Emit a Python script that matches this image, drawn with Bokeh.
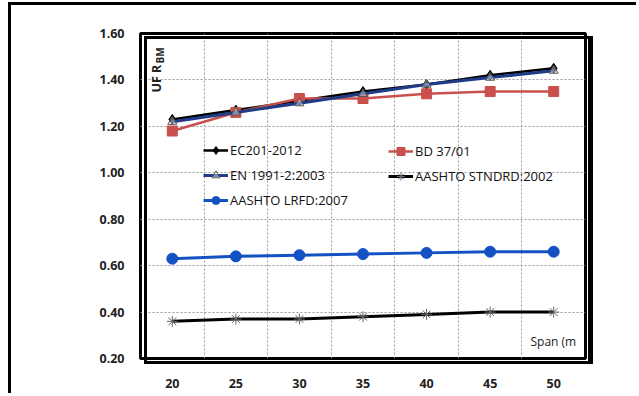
from bokeh.plotting import figure
from bokeh.models import (Range1d, FixedTicker, Legend, LegendItem, Label,
                          NumeralTickFormatter, Div)
from bokeh.layouts import column
from bokeh.embed import file_html
from bokeh.resources import INLINE

spans = [20, 25, 30, 35, 40, 45, 50]
ec2012 = [1.23, 1.27, 1.31, 1.35, 1.38, 1.42, 1.45]
bd3701 = [1.18, 1.26, 1.32, 1.32, 1.34, 1.35, 1.35]
en1991 = [1.22, 1.26, 1.30, 1.34, 1.38, 1.41, 1.44]
stndrd = [0.36, 0.37, 0.37, 0.38, 0.39, 0.40, 0.40]
lrfd = [0.63, 0.64, 0.645, 0.65, 0.655, 0.66, 0.66]
y_ticks = [0.2, 0.4, 0.6, 0.8, 1.0, 1.2, 1.4, 1.6]
series_names = ["EC201-2012", "BD 37/01", "EN 1991-2:2003",
                "AASHTO STNDRD:2002", "AASHTO LRFD:2007"]

FONT = "Open Sans"

fig = figure(width=628, height=391, output_backend="svg", toolbar_location=None,
             x_range=Range1d(17.5, 52.5), y_range=Range1d(0.2, 1.6),
             min_border_left=129, min_border_right=54, min_border_top=28,
             min_border_bottom=38)
fig.outline_line_color = "black"
fig.outline_line_width = 3

# outer chart frame (left/top edges visible in the window)
fig.styles = {"border-left": "3px solid black", "border-top": "3px solid black",
              "margin-left": "8px", "margin-top": "2px"}

# axes
for ax in (fig.xaxis[0], fig.yaxis[0]):
    ax.axis_line_color = None
    ax.major_tick_line_color = None
    ax.minor_tick_line_color = None
    ax.major_label_text_font = FONT
    ax.major_label_text_font_size = "12.5px"
    ax.major_label_text_font_style = "bold"
    ax.major_label_text_color = "#222222"
fig.xaxis.ticker = FixedTicker(ticks=spans)
fig.xaxis.major_label_standoff = 14
fig.yaxis.ticker = FixedTicker(ticks=y_ticks)
fig.yaxis.formatter = NumeralTickFormatter(format="0.00")
fig.yaxis.major_label_standoff = 10

# grids
fig.xgrid.ticker = FixedTicker(ticks=[(a + b) / 2 for a, b in zip(spans[:-1], spans[1:])])
fig.ygrid.ticker = FixedTicker(ticks=y_ticks[1:-1])
for g in (fig.xgrid[0], fig.ygrid[0]):
    g.grid_line_color = "#9a9a9a"
    g.grid_line_dash = "2 2"
    g.grid_line_width = 1

# series
r_ec_l = fig.line(spans, ec2012, line_color="black", line_width=2.5)
r_ec_m = fig.scatter(spans, ec2012, marker="diamond", size=10, fill_color="black", line_color="black")
r_bd_l = fig.line(spans, bd3701, line_color="#c9504c", line_width=2.5)
r_bd_m = fig.scatter(spans, bd3701, marker="square", size=10, fill_color="#c9504c", line_color="#c9504c")
r_en_l = fig.line(spans, en1991, line_color="#1f3c88", line_width=3)
r_en_m = fig.scatter(spans, en1991, marker="triangle", size=9, fill_color="white", fill_alpha=0.4, line_color="#555555")
r_st_l = fig.line(spans, stndrd, line_color="black", line_width=3)
r_st_m = fig.scatter(spans, stndrd, marker="asterisk", size=11, line_color="#666666", line_width=1)
r_lr_l = fig.line(spans, lrfd, line_color="#1452c4", line_width=3)
r_lr_m = fig.scatter(spans, lrfd, marker="circle", size=11, fill_color="#1452c4", line_color="#1452c4")

def style_legend(lg):
    lg.background_fill_alpha = 0
    lg.border_line_color = None
    lg.padding = 0
    lg.margin = 0
    lg.spacing = 5
    lg.glyph_width = 25
    lg.glyph_height = 20
    lg.label_height = 20
    lg.label_standoff = 2
    lg.label_text_font = FONT
    lg.label_text_font_size = "13px"
    lg.label_text_color = "#111111"

leg1 = Legend(items=[LegendItem(label=series_names[0], renderers=[r_ec_l, r_ec_m]),
                     LegendItem(label=series_names[2], renderers=[r_en_l, r_en_m]),
                     LegendItem(label=series_names[4], renderers=[r_lr_l, r_lr_m])],
              location=(63, 148))
leg2 = Legend(items=[LegendItem(label=series_names[1], renderers=[r_bd_l, r_bd_m]),
                     LegendItem(label=series_names[3], renderers=[r_st_l, r_st_m])],
              location=(248, 172))
style_legend(leg1)
style_legend(leg2)
fig.add_layout(leg1, "center")
fig.add_layout(leg2, "center")

# axis titles inside the frame
fig.add_layout(Label(x=16, y=266, x_units="screen", y_units="screen", text="UF R",
                     angle=90, angle_units="deg", text_font=FONT, text_font_size="12.5px",
                     text_font_style="bold", text_color="#222222", text_baseline="alphabetic"))
fig.add_layout(Label(x=19, y=295, x_units="screen", y_units="screen", text="BM",
                     angle=90, angle_units="deg", text_font=FONT, text_font_size="10px",
                     text_font_style="bold", text_color="#222222", text_baseline="alphabetic"))
fig.add_layout(Label(x=390, y=17, x_units="screen", y_units="screen", text="Span (m",
                     text_font=FONT, text_font_size="12px", text_color="#222222",
                     text_baseline="alphabetic"))

# heavy plot-area frame as an overlay element laid over the figure
frame_box = Div(text="", width=449, height=328,
                styles={"position": "absolute", "left": "139px", "top": "31px",
                        "width": "449px", "height": "328px",
                        "box-sizing": "border-box",
                        "border": "3px solid black", "border-right-width": "5px",
                        "pointer-events": "none", "z-index": "100"})

p = column(fig, frame_box, spacing=0)

open("out.html", "w").write(file_html(p, INLINE))
